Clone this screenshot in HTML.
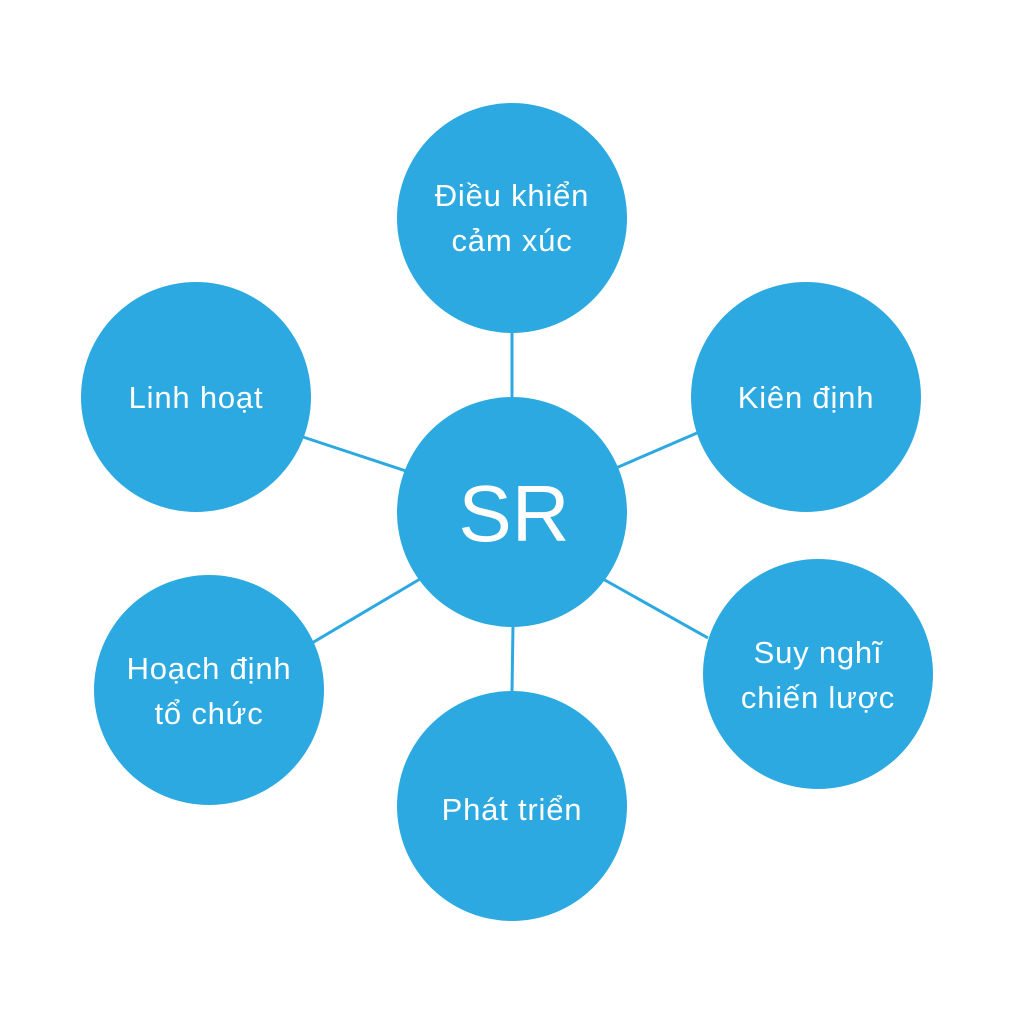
<!DOCTYPE html>
<html><head><meta charset="utf-8"><style>
html,body{margin:0;padding:0;background:#fff;}
svg{display:block}
text{font-family:"Liberation Sans","DejaVu Sans",sans-serif;fill:#fff;text-anchor:middle}
</style></head><body>
<svg width="1024" height="1024" viewBox="0 0 1024 1024">
<g stroke="#2CA9E1" stroke-width="3">
<line x1="512" y1="330" x2="512" y2="400"/>
<line x1="303" y1="437" x2="406" y2="471"/>
<line x1="697" y1="433" x2="616" y2="468"/>
<line x1="708" y1="638" x2="603" y2="579"/>
<line x1="312" y1="643" x2="420" y2="579"/>
<line x1="513" y1="625" x2="512" y2="692"/>
</g>
<g fill="#2CA9E1">
<circle cx="512" cy="512" r="115"/>
<circle cx="512" cy="218" r="115"/>
<circle cx="806" cy="397" r="115"/>
<circle cx="196" cy="397" r="115"/>
<circle cx="818" cy="674" r="115"/>
<circle cx="209" cy="690" r="115"/>
<circle cx="512" cy="806" r="115"/>
</g>
<text x="514" y="541" font-size="80">SR</text>
<g font-size="31" letter-spacing="0.8">
<text x="512" y="206">Điều khiển</text>
<text x="512" y="251">cảm xúc</text>
<text x="806" y="408">Kiên định</text>
<text x="196" y="408">Linh hoạt</text>
<text x="818" y="663">Suy nghĩ</text>
<text x="818" y="708">chiến lược</text>
<text x="209" y="679">Hoạch định</text>
<text x="209" y="724">tổ chức</text>
<text x="512" y="820">Phát triển</text>
</g>
</svg>
</body></html>
